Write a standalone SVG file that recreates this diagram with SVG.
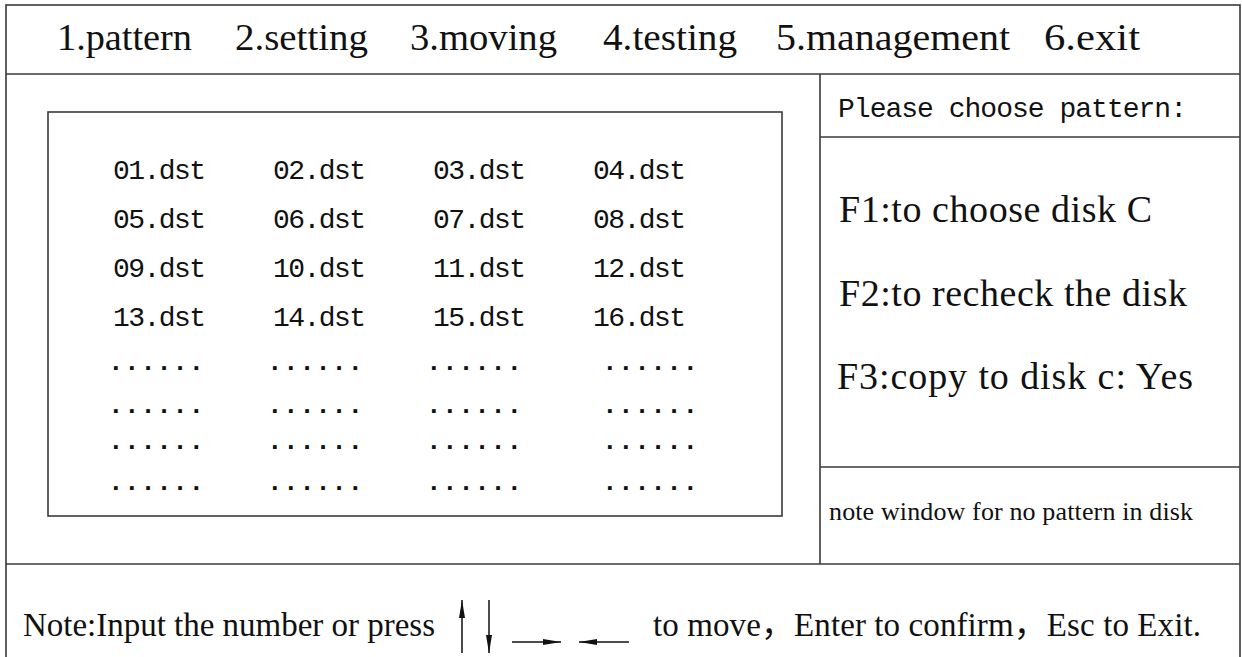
<svg xmlns="http://www.w3.org/2000/svg" width="1242" height="657" viewBox="0 0 1242 657">
<style>
.frame{fill:none;stroke:#3a3a3a;stroke-width:1.6}
.menu{font-family:"Liberation Serif","Times New Roman",serif;font-size:38px;fill:#111}
.mono{font-family:"Liberation Mono","Courier New",monospace;fill:#111}
.file{font-size:28px}
.dots{font-size:26px;font-weight:bold}
.opt{font-family:"Liberation Serif","Times New Roman",serif;font-size:38px;fill:#111}
.small{font-family:"Liberation Serif","Times New Roman",serif;font-size:26px;fill:#111}
.note{font-family:"Liberation Serif","Times New Roman","Noto Sans CJK SC",serif;font-size:33px;fill:#111}
.key{stroke:#111;stroke-width:1.5;fill:none}
</style>
<defs>
<marker id="head" viewBox="0 0 18 6" refX="18" refY="3" markerWidth="18" markerHeight="6" markerUnits="userSpaceOnUse" orient="auto">
<path d="M0,0 L18,3 L0,6 Z" fill="#111"/>
</marker>
</defs>
<rect width="1242" height="657" fill="#fff"/>
<g id="frame">
<rect class="frame" x="6" y="5" width="1234" height="660"/>
<line class="frame" x1="6" y1="74" x2="1240" y2="74"/>
<line class="frame" x1="6" y1="564" x2="1240" y2="564"/>
<line class="frame" x1="820" y1="74" x2="820" y2="564"/>
<line class="frame" x1="820" y1="137" x2="1240" y2="137"/>
<line class="frame" x1="820" y1="467" x2="1240" y2="467"/>
</g>
<g id="menu-bar">
<text class="menu" x="57" y="50" textLength="135" lengthAdjust="spacingAndGlyphs">1.pattern</text>
<text class="menu" x="235" y="50" textLength="133" lengthAdjust="spacingAndGlyphs">2.setting</text>
<text class="menu" x="410" y="50" textLength="147" lengthAdjust="spacingAndGlyphs">3.moving</text>
<text class="menu" x="603" y="50" textLength="134" lengthAdjust="spacingAndGlyphs">4.testing</text>
<text class="menu" x="776" y="50" textLength="234" lengthAdjust="spacingAndGlyphs">5.management</text>
<text class="menu" x="1044" y="50" textLength="96" lengthAdjust="spacingAndGlyphs">6.exit</text>
</g>
<g id="pattern-list">
<rect class="frame" x="48" y="112" width="734" height="404"/>
<g class="mono file">
<text x="113" y="179" textLength="93">01.dst</text>
<text x="273" y="179" textLength="93">02.dst</text>
<text x="433" y="179" textLength="93">03.dst</text>
<text x="593" y="179" textLength="93">04.dst</text>
<text x="113" y="228" textLength="93">05.dst</text>
<text x="273" y="228" textLength="93">06.dst</text>
<text x="433" y="228" textLength="93">07.dst</text>
<text x="593" y="228" textLength="93">08.dst</text>
<text x="113" y="277" textLength="93">09.dst</text>
<text x="273" y="277" textLength="93">10.dst</text>
<text x="433" y="277" textLength="93">11.dst</text>
<text x="593" y="277" textLength="93">12.dst</text>
<text x="113" y="326" textLength="93">13.dst</text>
<text x="273" y="326" textLength="93">14.dst</text>
<text x="433" y="326" textLength="93">15.dst</text>
<text x="593" y="326" textLength="93">16.dst</text>
</g>
<g class="mono dots">
<text x="108" y="370" textLength="96">......</text>
<text x="267" y="370" textLength="96">......</text>
<text x="426" y="370" textLength="96">......</text>
<text x="602" y="370" textLength="96">......</text>
<text x="108" y="413" textLength="96">......</text>
<text x="267" y="413" textLength="96">......</text>
<text x="426" y="413" textLength="96">......</text>
<text x="602" y="413" textLength="96">......</text>
<text x="108" y="449" textLength="96">......</text>
<text x="267" y="449" textLength="96">......</text>
<text x="426" y="449" textLength="96">......</text>
<text x="602" y="449" textLength="96">......</text>
<text x="108" y="490" textLength="96">......</text>
<text x="267" y="490" textLength="96">......</text>
<text x="426" y="490" textLength="96">......</text>
<text x="602" y="490" textLength="96">......</text>
</g>
</g>
<g id="prompt">
<text class="mono" x="838" y="117" font-size="28" textLength="349">Please choose pattern:</text>
</g>
<g id="options">
<text class="opt" x="839" y="222" textLength="313">F1:to choose disk C</text>
<text class="opt" x="839" y="306" textLength="348">F2:to recheck the disk</text>
<text class="opt" x="837" y="389" textLength="356">F3:copy to disk c: Yes</text>
</g>
<g id="note-window">
<text class="small" x="829" y="520" textLength="364">note window for no pattern in disk</text>
</g>
<g id="status-bar">
<text class="note" x="23" y="636" textLength="412">Note:Input the number or press</text>
<text class="note" x="653" y="636" textLength="548">to move，Enter to confirm，Esc to Exit.</text>
</g>
<g id="key-arrows">
<line class="key" x1="462" y1="653" x2="462" y2="600" marker-end="url(#head)"/>
<line class="key" x1="489" y1="600" x2="489" y2="653" marker-end="url(#head)"/>
<line class="key" x1="512" y1="642" x2="561" y2="642" marker-end="url(#head)"/>
<line class="key" x1="629" y1="642" x2="579" y2="642" marker-end="url(#head)"/>
</g>
</svg>
